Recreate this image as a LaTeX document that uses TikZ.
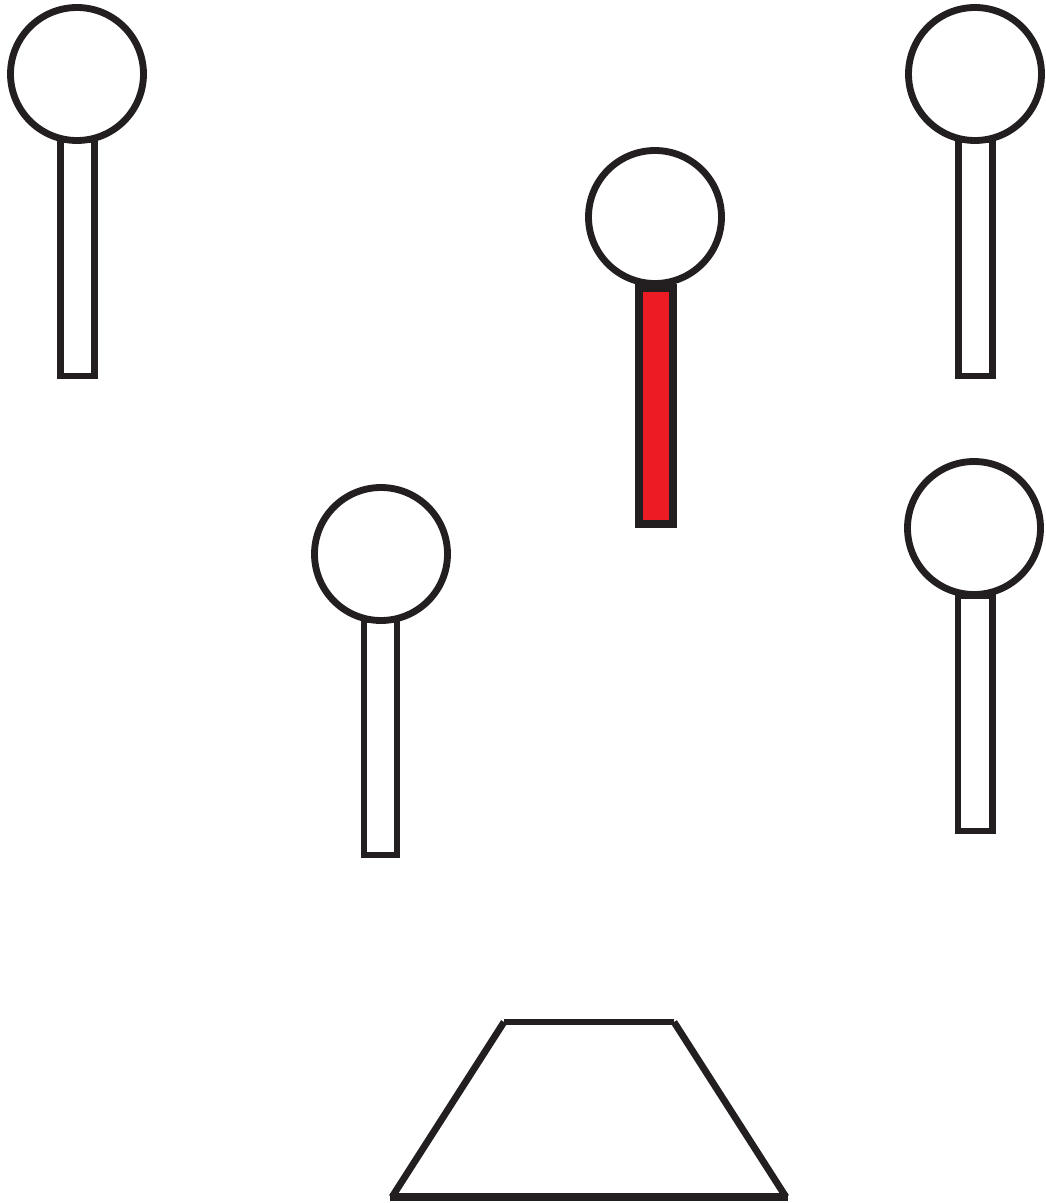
\documentclass[tikz,border=0pt]{standalone}
\usepackage{tikz}
\definecolor{inkblack}{HTML}{231F20}
\definecolor{pinred}{HTML}{ED1C24}

\begin{document}
\begin{tikzpicture}[x=0.02cm,y=-0.02cm,line width=3.9pt,draw=inkblack]
\useasboundingbox (0,0) rectangle (1045,1203);
% A) upper left pin
\draw (60.5,140) rectangle (94.5,376);
\draw[fill=white] (77,74) circle (66.5);
% B) upper right pin
\draw (958.5,140) rectangle (992.5,376);
\draw[fill=white] (975,74) circle (66.5);
% C) marked pin, red stem
\draw[fill=pinred,line width=4.6pt] (639,288) rectangle (673,524);
\draw[fill=white] (655,217) circle (66.5);
% D) middle left pin
\draw (364,620) rectangle (397,855);
\draw[fill=white] (381,554) circle (66.5);
% E) lower right pin
\draw (958,596) rectangle (992.5,831);
\draw[fill=white] (974,528) circle (66.5);
% F) base, four separate strokes
\draw (504,1022) -- (674,1022);
\draw (504,1022) -- (392,1197);
\draw (674,1022) -- (786,1197);
\draw[line width=4.4pt] (390,1197) -- (788,1197);
\end{tikzpicture}
\end{document}
